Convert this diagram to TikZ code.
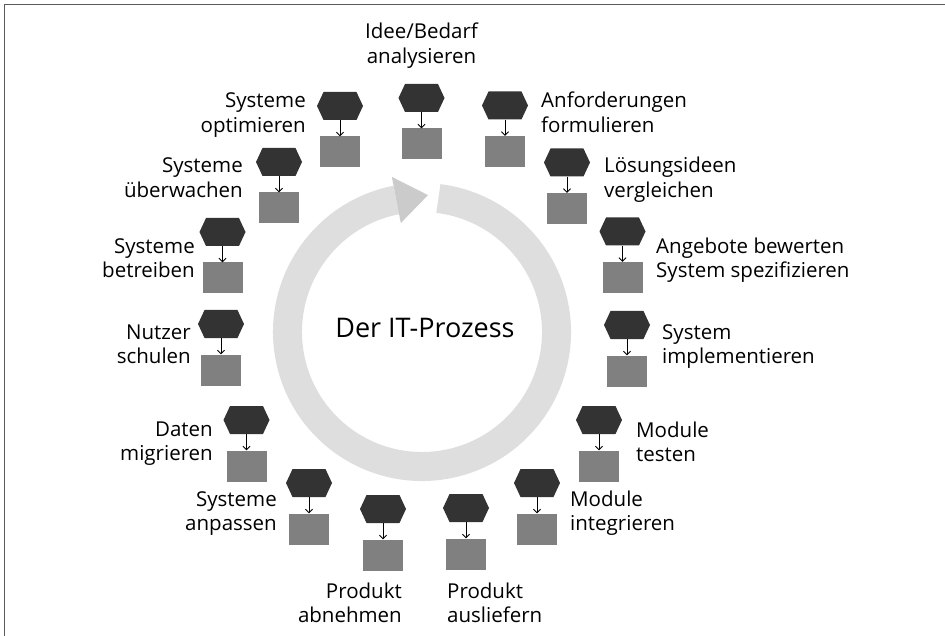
\documentclass[tikz,border=0pt]{standalone}
\usepackage{fontspec}
\setmainfont{Open Sans}
\usetikzlibrary{shapes.symbols,arrows.meta,calc}
\definecolor{hexc}{HTML}{333333}
\definecolor{boxc}{HTML}{808080}
\definecolor{ringc}{HTML}{DEDEDE}
\definecolor{headc}{HTML}{CBCBCB}
\definecolor{framec}{HTML}{5A5A5A}
\begin{document}
\begin{tikzpicture}[x=1pt,y=-1pt,
  hexnode/.style={signal, signal to=east and west, signal pointer angle=130, fill=hexc, draw=none, minimum width=46pt, minimum height=28pt, inner sep=0pt},
  boxnode/.style={rectangle, fill=boxc, draw=none, minimum width=40pt, minimum height=31pt, inner sep=0pt},
  flow/.style={draw=black, line width=0.8pt, -{Straight Barb[length=3.5pt,width=7pt]}},
  lbl/.style={font=\fontsize{20.5}{24.5}\selectfont, inner sep=0pt, text=black},
  lblL/.style={lbl, align=left, anchor=base west},
  lblR/.style={lbl, align=right, anchor=base east},
  ring/.style={draw=ringc, line width=29pt},
  framel/.style={draw=framec, line width=1.5pt}
  ]
\useasboundingbox (0,0) rectangle (945,636);
\fill[white] (0,0) rectangle (945,636);
% frame (right and bottom edges lie outside the picture)
\coordinate (fa) at (4.5,640);
\coordinate (fb) at (4.5,4.5);
\coordinate (fc) at (950,4.5);
\draw[framel] (fa) -- (fb) -- (fc);
% ring with arrow head
\coordinate (c) at (422,332);
\draw[ring] ($(c)+(-101:134.5)$) arc[start angle=-101, end angle=-443, radius=134.5];
\fill[headc] ($(c)+(-101:158)$) -- ($(c)+(-101:111)$) -- ($(c)+(-87.5:137)$) -- cycle;
\node[font=\fontsize{27}{32}\selectfont, inner sep=0pt] (title) at (425,328) {Der IT-Prozess};
% steps
\foreach \i/\x/\y in {1/421.5/98, 2/505/105.5, 3/567/162.5, 4/622.5/231.5, 5/627/325,
  6/599/420, 7/537/483, 8/466/508, 9/383/509, 10/309/483, 11/246.5/420, 12/221/324,
  13/222.5/232, 14/279/162, 15/340/106}{
  \node[hexnode] (h\i) at (\x,\y) {};
  \node[boxnode] (s\i) at (\x,\y+46) {};
  \draw[flow] (h\i.south) -- (s\i.north);
}
% labels (anchor = baseline of the last line)
\node[lbl, align=center, anchor=base] (t1) at (421.5,63.5) {Idee/Bedarf\\analysieren};
\node[lblL] (t2) at (541,132.5) {Anforderungen\\formulieren};
\node[lblL] (t3) at (604,197.5) {Lösungsideen\\vergleichen};
\node[lblL] (t4) at (656,277.5) {Angebote bewerten\\System spezifizieren};
\node[lblL] (t5) at (662,363.5) {System\\implementieren};
\node[lblL] (t6) at (636,461.5) {Module\\testen};
\node[lblL] (t7) at (570,530.5) {Module\\integrieren};
\node[lblL] (t8) at (447,622.5) {Produkt\\ausliefern};
\node[lblR] (t9) at (402,622.5) {Produkt\\abnehmen};
\node[lblR] (t10) at (277,530.5) {Systeme\\anpassen};
\node[lblR] (t11) at (213,460.5) {Daten\\migrieren};
\node[lblR] (t12) at (191,363.5) {Nutzer\\schulen};
\node[lblR] (t13) at (195,277.5) {Systeme\\betreiben};
\node[lblR] (t14) at (243,197.5) {Systeme\\überwachen};
\node[lblR] (t15) at (306,132.5) {Systeme\\optimieren};
\end{tikzpicture}
\end{document}
